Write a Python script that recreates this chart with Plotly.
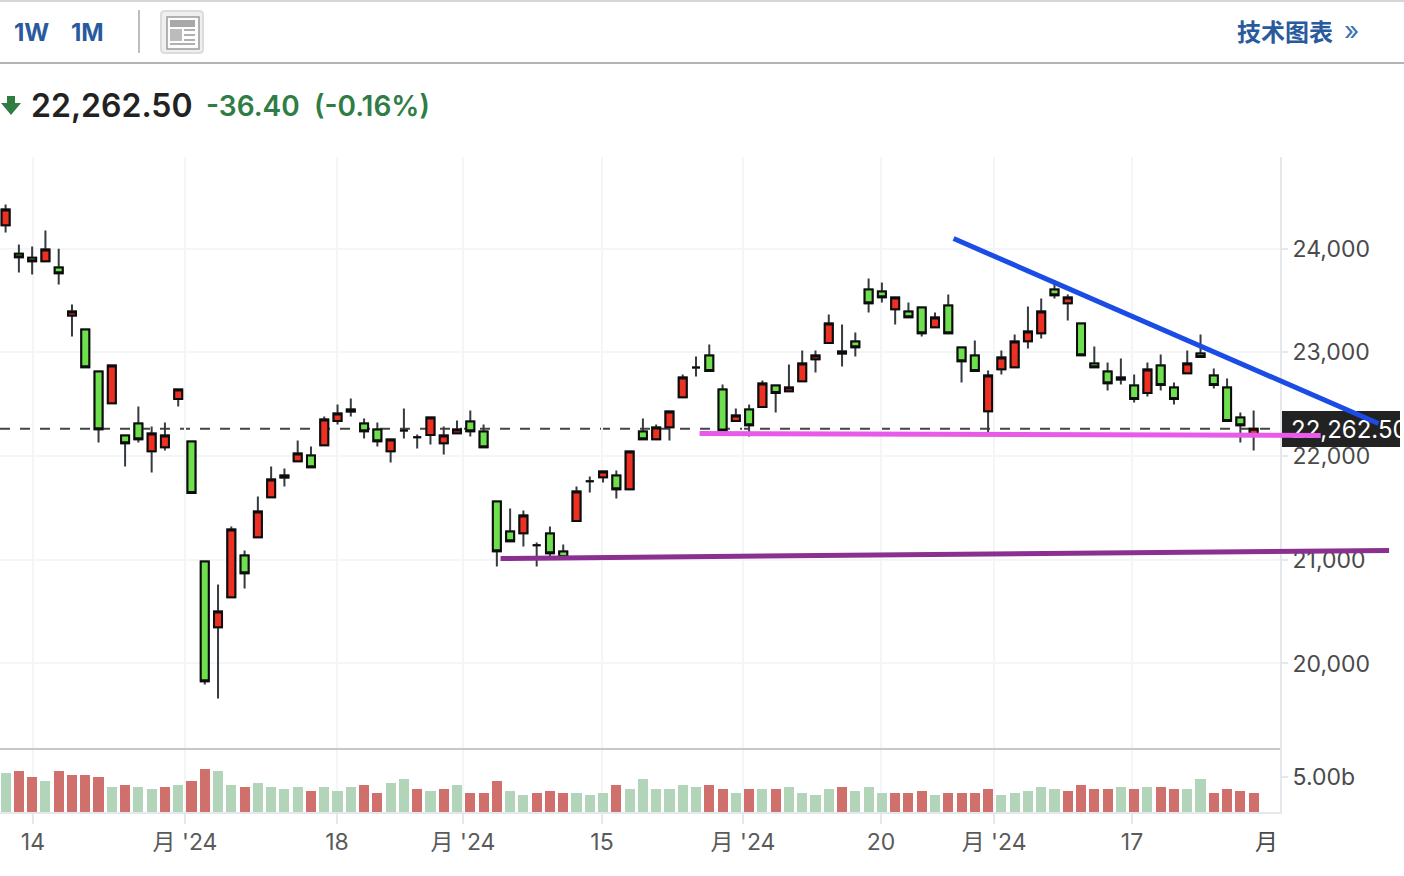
import plotly.graph_objects as go

# ---------- data ----------
HIGH = [24424,24039,24019,24173,23998,23460,23219,22814,22872,22197,22477,22284,22323,22641,22140,20983,20761,21320,21089,21609,
        21899,21879,22149,22091,22381,22496,22554,22361,22323,22159,22458,22207,22371,22284,22342,22438,22303,21561,21494,21474,
        21166,21320,21147,21706,21802,21850,21860,22043,22361,22303,22429,22785,22959,23075,22689,22458,22496,22728,22680,22882,
        23017,23017,23364,23267,23190,23711,23672,23528,23480,23431,23383,23557,23046,23113,22824,23017,23171,23441,23518,23692,
        23557,23277,23055,22901,22940,22786,22901,22978,22708,23017,23171,22843,22747,22419,22439]
BODY_TOP = [24376,23949,23910,23990,23817,23393,23219,22814,22872,22197,22313,22217,22197,22641,22140,20983,20501,21291,21041,21465,
            21773,21812,22024,22005,22352,22409,22448,22313,22255,22159,22245,22181,22371,22197,22255,22332,22236,21561,21272,21426,
            21140,21253,21079,21657,21757,21850,21812,22043,22236,22274,22429,22756,22853,22969,22641,22390,22448,22699,22680,22660,
            22892,22969,23277,23007,23104,23605,23586,23528,23393,23431,23335,23451,23046,22969,22776,22949,23104,23200,23393,23605,
            23528,23277,22892,22814,22757,22680,22834,22872,22660,22892,22988,22776,22660,22371,22262.5]
BODY_BOTTOM = [24225,23916,23878,23878,23762,23354,22856,22258,22509,22123,22162,22046,22085,22548,21642,19829,20350,20639,20870,21217,
               21603,21793,21950,21892,22104,22336,22429,22239,22143,22046,22245,22181,22201,22123,22220,22239,22085,21082,21179,21256,
               21140,21063,21025,21372,21757,21796,21680,21680,22162,22162,22278,22567,22853,22818,22246,22336,22297,22471,22606,22625,
               22721,22933,23088,22988,23049,23473,23531,23415,23338,23184,23242,23184,22914,22818,22432,22837,22856,23107,23184,23550,
               23473,22972,22856,22702,22737,22548,22606,22683,22548,22798,22953,22683,22336,22297,22195]
LOW = [24154,23769,23749,23878,23653,23152,22856,22130,22509,21899,22130,21841,22053,22477,21642,19797,19662,20639,20723,21217,
       21603,21706,21950,21892,22104,22303,22380,22168,22091,21937,22168,22072,22111,22014,22220,22188,22085,20935,21179,21127,
       20935,21025,21025,21372,21648,21744,21590,21680,22162,22162,22149,22567,22766,22818,22246,22336,22188,22471,22419,22625,
       22721,22805,23088,22863,22959,23383,23480,23267,23338,23152,23242,23184,22708,22818,22226,22786,22856,23036,23133,23518,
       23306,22972,22856,22631,22689,22516,22573,22631,22496,22798,22953,22651,22336,22130,22053]
RISING = [1,0,0,1,0,1,0,0,1,0,0,1,1,1,0,0,1,1,0,1,
          1,1,1,0,1,1,1,0,0,1,0,0,1,1,1,0,0,0,0,1,
          0,0,0,1,0,1,0,1,0,1,1,1,0,0,0,1,0,1,0,1,
          1,1,1,1,0,0,0,1,0,0,1,0,0,0,1,1,1,1,1,0,
          1,0,0,0,1,0,1,0,0,1,0,0,0,0,1]
VOLUME_B = [5.52,5.81,4.95,4.38,5.81,5.24,5.24,4.95,3.52,3.81,3.52,3.24,3.52,3.81,4.38,6.09,5.81,3.81,3.52,4.09,
            3.52,3.24,3.52,2.95,3.52,2.95,3.52,3.81,2.67,4.09,4.67,3.24,2.95,3.24,3.81,2.67,2.67,4.38,2.95,2.38,
            2.67,2.95,2.67,2.67,2.38,2.67,3.81,3.24,4.67,3.24,3.24,3.81,3.52,3.81,3.24,2.67,3.24,3.24,3.24,3.52,
            2.67,2.38,3.24,3.52,2.95,3.52,2.67,2.67,2.67,2.95,2.38,2.67,2.67,2.67,3.24,2.38,2.67,2.95,3.52,3.24,
            2.95,3.81,3.24,3.24,3.52,3.24,3.52,3.52,3.24,3.24,4.67,2.67,3.24,2.95,2.67]
VOLUME_DOWN = [0,1,1,0,1,1,1,1,0,1,0,0,1,0,1,1,0,0,1,0,
               0,0,0,1,0,0,0,1,1,0,0,1,0,1,0,1,1,1,0,0,
               1,1,1,0,0,0,1,0,0,0,0,0,0,1,1,0,1,0,1,0,
               0,0,0,1,0,0,0,1,1,1,0,1,1,1,1,0,0,0,0,0,
               1,1,1,1,0,1,0,1,1,0,0,1,1,1,1]

LAST_PRICE = 22262.50
PRICE_TICKS = [20000, 21000, 22000, 23000, 24000]
PRICE_LABELS = ["20,000", "21,000", "22,000", "23,000", "24,000"]
TIME_TICKS = [2.06, 13.51, 24.96, 34.45, 44.92, 55.54, 65.94, 74.45, 84.84]
TIME_LABELS = ["14", "月 '24", "18", "月 '24", "15", "月 '24", "20", "月 '24", "17"]
END_LABEL = "月"

BLUE_X, BLUE_Y = [71.4, 103.4], [24096, 22313]
PINK_X, PINK_Y = [52.27, 99.05], [22217, 22197]
PURPLE_X, PURPLE_Y = [37.28, 104.2], [21012, 21089]

# ---------- page geometry ----------
W, H = 1404, 876
PX_LEFT, PX_STEP = 5.6, 13.277
RIGHT = 1280
def idx(px): return (px - PX_LEFT) / PX_STEP
def fx(px): return px / W
def fy(py): return 1 - py / H

xs = list(range(len(HIGH)))
opens = [b if r else t for t, b, r in zip(BODY_TOP, BODY_BOTTOM, RISING)]
closes = [t if r else b for t, b, r in zip(BODY_TOP, BODY_BOTTOM, RISING)]
RED, GREEN = "#ec3123", "#6ee04e"
WICK, EDGE = "#353b40", "#0c0c0c"

fig = go.Figure()
# wicks
fig.add_trace(go.Candlestick(
    x=xs, open=opens, high=HIGH, low=LOW, close=closes, xaxis="x2", yaxis="y2",
    increasing=dict(line=dict(color=WICK, width=2), fillcolor=RED),
    decreasing=dict(line=dict(color=WICK, width=2), fillcolor=GREEN),
    showlegend=False, hoverinfo="skip"))
# bodies
fig.add_trace(go.Candlestick(
    x=xs, open=opens, high=BODY_TOP, low=BODY_BOTTOM, close=closes, xaxis="x2", yaxis="y2",
    increasing=dict(line=dict(color=EDGE, width=2), fillcolor=RED),
    decreasing=dict(line=dict(color=EDGE, width=2), fillcolor=GREEN),
    showlegend=False, hoverinfo="skip"))
# volume
fig.add_trace(go.Bar(
    x=xs, y=VOLUME_B, width=0.76, xaxis="x", yaxis="y",
    marker=dict(color=["#d0706c" if d else "#b2d4b8" for d in VOLUME_DOWN], line=dict(width=0)),
    showlegend=False, hoverinfo="skip"))
# last-price text, then the drawn lines over it, in a full-width overlay subplot
FONT = "Inter, 'Liberation Sans', 'Noto Sans CJK SC', sans-serif"
fig.add_trace(go.Scatter(
    x=[idx(1291)], y=[LAST_PRICE - 35], mode="text", text=[f"{LAST_PRICE:,.2f}"],
    textposition="middle right", textfont=dict(family=FONT, size=24, color="#ffffff"),
    cliponaxis=False, xaxis="x3", yaxis="y3", showlegend=False, hoverinfo="skip"))
for lx, ly, col, lw in [(PURPLE_X, PURPLE_Y, "#8a3090", 5),
                        (PINK_X, PINK_Y, "#e85ae8", 5),
                        (BLUE_X, BLUE_Y, "#1b4de6", 5)]:
    fig.add_trace(go.Scatter(x=lx, y=ly, mode="lines", line=dict(color=col, width=lw),
                             xaxis="x3", yaxis="y3", showlegend=False, hoverinfo="skip"))

GRID, AXIS = "#f4f5f7", "#e4e8ed"
PRICE_DOM = [fy(749), fy(157)]
VOL_DOM = [fy(812), fy(749)]
PRICE_RANGE = [24000 - (749 - 248.5) * 9.64, 24000 + (248.5 - 157) * 9.64]
XR = [idx(0), idx(RIGHT)]
tick_font = dict(family=FONT, size=23, color="#4a4a4a")

fig.update_layout(
    width=W, height=H, autosize=False, margin=dict(l=0, r=0, t=0, b=0),
    paper_bgcolor="#ffffff", plot_bgcolor="rgba(0,0,0,0)", font=dict(family=FONT),
    boxmode="overlay", boxgap=0.4, boxgroupgap=0, bargap=0, dragmode=False, showlegend=False,
    xaxis=dict(domain=[0, fx(RIGHT)], range=XR, anchor="y", rangeslider=dict(visible=False),
               tickvals=TIME_TICKS, ticktext=TIME_LABELS, tickfont=dict(family=FONT, size=23, color="#5a5a5a"),
               ticks="outside", ticklen=10, tickwidth=2, tickcolor=AXIS, ticklabelstandoff=-2,
               showgrid=True, gridcolor=GRID, gridwidth=2, showline=True, linecolor=AXIS, linewidth=2,
               zeroline=False, tickangle=0),
    yaxis=dict(domain=VOL_DOM, range=[0, 9.0], anchor="x", side="right", tickvals=[5], ticktext=["5.00b"],
               tickfont=tick_font, ticks="outside", ticklen=6, tickwidth=2, tickcolor=AXIS,
               showgrid=False, showline=True, linecolor=AXIS, linewidth=2, zeroline=False),
    xaxis2=dict(domain=[0, fx(RIGHT)], range=XR, anchor="y2", rangeslider=dict(visible=False),
                tickvals=TIME_TICKS, showticklabels=False, ticks="",
                showgrid=True, gridcolor=GRID, gridwidth=2, showline=False, zeroline=False),
    yaxis2=dict(domain=PRICE_DOM, range=PRICE_RANGE, anchor="x2", side="right",
                tickvals=PRICE_TICKS, ticktext=PRICE_LABELS, tickfont=tick_font,
                ticks="outside", ticklen=6, tickwidth=2, tickcolor=AXIS,
                showgrid=True, gridcolor=GRID, gridwidth=2, showline=True, linecolor=AXIS, linewidth=2,
                zeroline=False),
    xaxis3=dict(domain=[0, 1], range=[idx(0), idx(W)], anchor="y3", visible=False, rangeslider=dict(visible=False)),
    yaxis3=dict(domain=PRICE_DOM, range=PRICE_RANGE, anchor="x3", visible=False),
)

shapes = []
def rect(x0, y0, x1, y1, fill, line=None, lw=0, layer="above"):
    shapes.append(dict(type="rect", xref="paper", yref="paper", x0=fx(x0), x1=fx(x1), y0=fy(y0), y1=fy(y1),
                       fillcolor=fill, line=dict(color=line or fill, width=lw), layer=layer))
def hline(x0, x1, y, col, lw=2):
    shapes.append(dict(type="line", xref="paper", yref="paper", x0=fx(x0), x1=fx(x1), y0=fy(y), y1=fy(y),
                       line=dict(color=col, width=lw)))

# header rules and separators
hline(0, W, 1, "#d6d6d6", 2)
hline(0, W, 63, "#b4b4b4", 2)
shapes.append(dict(type="line", xref="paper", yref="paper", x0=fx(139), x1=fx(139), y0=fy(10), y1=fy(53),
                   line=dict(color="#bdbdbd", width=2)))
hline(0, RIGHT, 749, "#c8c8c8", 2)
# newspaper icon
shapes.append(dict(type="path", xref="paper", yref="paper", fillcolor="#efefef", line=dict(color="#dcdcdc", width=2),
                   path=f"M{fx(165)},{fy(11)} L{fx(199)},{fy(11)} Q{fx(203)},{fy(11)} {fx(203)},{fy(15)} "
                        f"L{fx(203)},{fy(49)} Q{fx(203)},{fy(53)} {fx(199)},{fy(53)} "
                        f"L{fx(165)},{fy(53)} Q{fx(161)},{fy(53)} {fx(161)},{fy(49)} "
                        f"L{fx(161)},{fy(15)} Q{fx(161)},{fy(11)} {fx(165)},{fy(11)} Z"))
rect(167, 17, 199, 49, "#fdfdfd", "#9a9a9a", 1.5)
rect(170, 20, 195, 27, "#a8a8a8")
rect(170, 29, 182, 41, "#bcbcbc")
for ly in (30, 35, 40):
    hline(184, 195, ly, "#b0b0b0", 2)
hline(170, 195, 44, "#b0b0b0", 2)
# down arrow
pts = [(7, 96), (15, 96), (15, 103), (21, 103), (11, 115), (1, 103), (7, 103)]
shapes.append(dict(type="path", xref="paper", yref="paper", fillcolor="#2f7d40", line=dict(width=0),
                   path="M" + " L".join(f"{fx(a)},{fy(b)}" for a, b in pts) + " Z"))
# last-price marker: dashed line and tag
shapes.append(dict(type="line", xref="paper", yref="y2", x0=0, x1=fx(RIGHT), y0=LAST_PRICE, y1=LAST_PRICE,
                   line=dict(color="#444444", width=2, dash="10px,10px"), layer="below"))
rect(RIGHT, 411, 1400, 447, "#222222", layer="below")
rect(1400, 405, W, 452, "#ffffff")
fig.update_layout(shapes=shapes)

def note(text, x, y, size, color, anchor="left", weight=None):
    font = dict(family=FONT, size=size, color=color)
    if weight:
        font["weight"] = weight
    fig.add_annotation(text=text, xref="paper", yref="paper", x=fx(x), y=fy(y), showarrow=False,
                       xanchor=anchor, yanchor="middle", font=font, borderpad=0, borderwidth=0)

note("1W", 14, 32, 24, "#2a5a9e", weight=700)
note("1M", 71, 32, 24, "#2a5a9e", weight=700)
note("技术图表", 1237, 32, 24, "#2a5a9e", weight=700)
note("»", 1344, 31, 26, "#3f6fae")
note("22,262.50", 31, 106, 32, "#222222", weight=600)
note("-36.40", 206, 106, 28, "#2f7d45", weight=600)
note("(-0.16%)", 314, 106, 28, "#2f7d45", weight=600)
note(END_LABEL, 1266, 842, 23, "#4a4a4a", anchor="center")

fig.write_html("out.html", config=dict(displayModeBar=False),
               post_script="document.body.style.margin='0';document.body.style.overflow='hidden';")
